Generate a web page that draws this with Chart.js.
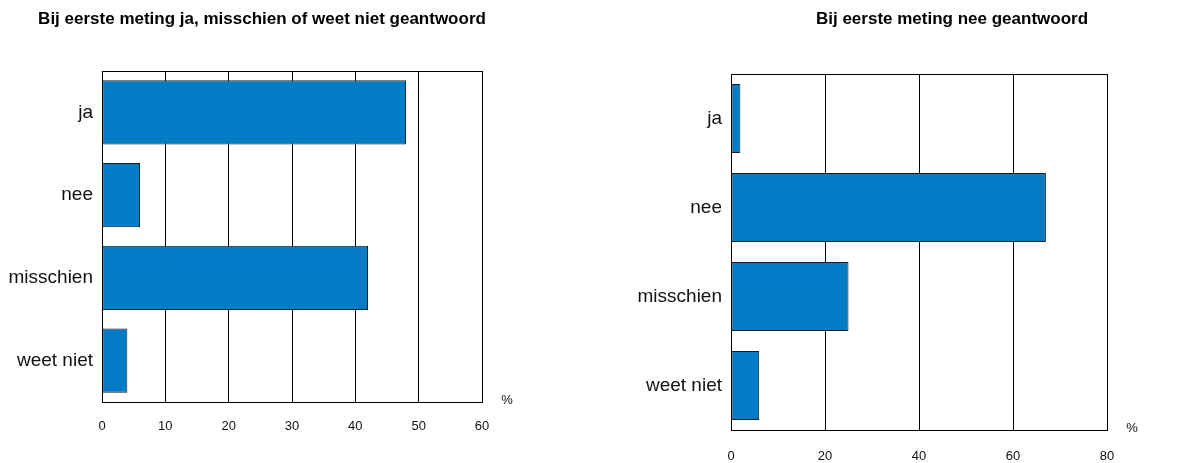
<!DOCTYPE html>
<html><head><meta charset="utf-8">
<script src="https://cdn.jsdelivr.net/npm/chart.js@4"></script>
<style>
html,body{margin:0;padding:0;background:#fff;width:1188px;height:463px;overflow:hidden;}
.box{position:absolute;top:0;height:463px;}
canvas{display:block;}
</style></head><body>
<div class="box" style="left:0;width:540px"><canvas id="c1" width="540" height="463"></canvas></div>
<div class="box" style="left:620px;width:568px"><canvas id="c2" width="568" height="463"></canvas></div>
<script>
// ---- data ----
const categories = ['ja', 'nee', 'misschien', 'weet niet'];
const valuesFirstYes = [48, 6, 42, 4];
const valuesFirstNo = [2, 67, 25, 6];
const ticksFirstYes = [0, 10, 20, 30, 40, 50, 60];
const ticksFirstNo = [0, 20, 40, 60, 80];
const titleFirstYes = 'Bij eerste meting ja, misschien of weet niet geantwoord';
const titleFirstNo = 'Bij eerste meting nee geantwoord';
const unitLabel = '%';

const FONT = '"Liberation Sans", Arial, Helvetica, sans-serif';
const BAR = '#037BC5';

const framePlugin = {
  id: 'frame',
  afterDraw(chart) {
    const {ctx, chartArea: a} = chart;
    ctx.save();
    ctx.strokeStyle = '#000';
    ctx.lineWidth = 1;
    ctx.strokeRect(Math.round(a.left) + 0.5, Math.round(a.top) + 0.5,
                   Math.round(a.right - a.left), Math.round(a.bottom - a.top));
    ctx.fillStyle = '#111';
    ctx.font = '13px ' + FONT;
    ctx.textAlign = 'center';
    ctx.textBaseline = 'middle';
    ctx.fillText(unitLabel, a.right + 25, a.bottom - 2);
    ctx.restore();
  }
};

function makeChart(id, values, tickValues, title, g) {
  return new Chart(document.getElementById(id), {
    type: 'bar',
    data: {
      labels: categories,
      datasets: [{
        data: values,
        backgroundColor: BAR,
        borderColor: '#1a1a1a',
        borderWidth: 1,
        borderSkipped: false,
        barPercentage: 0.775,
        categoryPercentage: 1
      }]
    },
    options: {
      indexAxis: 'y',
      responsive: false,
      animation: false,
      devicePixelRatio: 1,
      layout: {padding: {left: g.padL, right: g.padR, top: 0, bottom: 0}},
      plugins: {
        legend: {display: false},
        tooltip: {enabled: false},
        title: {
          display: true,
          text: title,
          color: '#000',
          font: {family: FONT, size: 17, weight: 'bold'},
          padding: {top: 9, bottom: g.titleBottom}
        }
      },
      scales: {
        x: {
          type: 'linear',
          min: tickValues[0],
          max: tickValues[tickValues.length - 1],
          afterBuildTicks: s => { s.ticks = tickValues.map(v => ({value: v})); },
          afterFit: s => { s.height = g.xH; s.paddingLeft = 0; s.paddingRight = g.extraR; },
          grid: {color: '#000', lineWidth: 1, drawTicks: false},
          border: {display: true, color: '#000', width: 1},
          ticks: {color: '#111', font: {family: FONT, size: 13}, padding: g.tickPad, maxRotation: 0}
        },
        y: {
          afterFit: s => { s.width = g.yW; s.paddingTop = 0; s.paddingBottom = 0; },
          grid: {display: false, drawTicks: false},
          border: {display: true, color: '#000', width: 1},
          ticks: {color: '#111', font: {family: FONT, size: 19}, padding: 9}
        }
      }
    },
    plugins: [framePlugin]
  });
}

makeChart('c1', valuesFirstYes, ticksFirstYes, titleFirstYes,
  {padL: 0, padR: 16, yW: 102, extraR: 58, xH: 61, tickPad: 17, titleBottom: 41.6});
makeChart('c2', valuesFirstNo, ticksFirstNo, titleFirstNo,
  {padL: 0, padR: -96, yW: 111, extraR: 81, xH: 33, tickPad: 19, titleBottom: 44.6});
</script>
</body></html>
